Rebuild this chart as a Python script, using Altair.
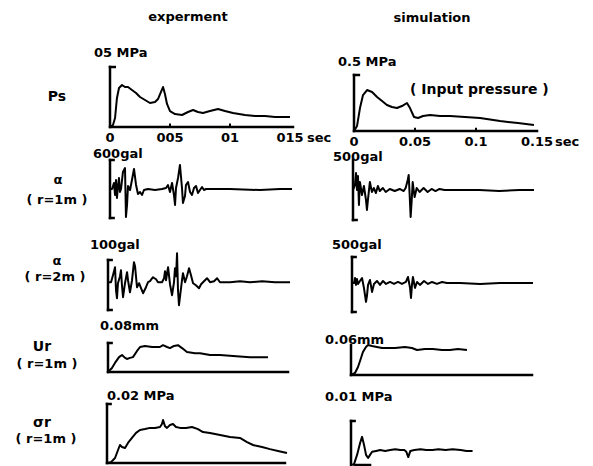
import altair as alt
import pandas as pd

M = 8            # page margin
FONT = "DejaVu Sans"
FS = 13

# ---------------- texts ----------------
col_titles = ["experment", "simulation"]
row_names = ["Ps", "\u03b1", "\u03b1", "Ur", "\u03c3r"]
row_subs = ["", "( r=1m )", "( r=2m )", "( r=1m )", "( r=1m )"]
unit_exp = ["05 MPa", "600gal", "100gal", "0.08mm", "0.02 MPa"]
unit_sim = ["0.5 MPa", "500gal", "500gal", "0.06mm", "0.01 MPa"]
tick_values = [0, 0.05, 0.1, 0.15]
tick_labels_exp = ["0", "005", "01", "015"]
tick_labels_sim = ["0", "0.05", "0.1", "0.15"]
sec_label = "sec"
note_text = "( Input pressure )"

# ---------------- series (time in s) ----------------
ps_exp_t = [0, .0025, .0042, .0058, .0075, .010, .0125, .015, .0183, .0217, .025, .0292, .0333, .0375, .040,
            .0425, .0442, .0458, .0475, .050, .0542, .060, .065, .0692, .0733, .0775, .0833, .090, .0958,
            .1025, .1125, .1208, .1292, .1375, .150]
ps_exp_v = [0, .017, .075, .242, .325, .350, .333, .333, .308, .283, .250, .225, .200, .208, .233,
            .292, .333, .275, .192, .133, .108, .100, .125, .142, .125, .117, .133, .150, .133,
            .117, .100, .092, .092, .083, .083]

ps_sim_t = [0, .0025, .0049, .0074, .0107, .0148, .0189, .0230, .0270, .0311, .0352, .0393, .0434, .0459,
            .0492, .0525, .0566, .0623, .0705, .0787, .0910, .1033, .1197, .1344, .1475]
ps_sim_v = [0, .045, .205, .321, .366, .348, .304, .268, .232, .214, .205, .223, .250, .205,
            .125, .116, .134, .143, .134, .134, .125, .116, .089, .071, .054]

a1_exp_t = [0, .0017, .0033, .0042, .005, .0058, .0067, .0075, .0083, .0092, .0108, .0125, .0133, .0142,
            .015, .0167, .0183, .020, .0217, .0233, .025, .0267, .0283, .0317, .0375, .0433, .0467, .0483,
            .050, .0517, .0533, .0542, .055, .0567, .0583, .060, .0608, .0625, .0633, .065, .0667, .0683,
            .070, .0717, .0733, .075, .0767, .0783, .080, .100, .125, .1417, .1517]
a1_exp_v = [0, 0, 124, -124, 186, -186, 62, 228, -62, 0, 352, 434, -579, -331,
            62, -21, 186, 414, 83, -103, -62, -124, -21, 0, -21, 0, 21, 83,
            -62, 124, -124, -331, 21, 228, 497, 21, -290, -145, 83, 145, -62, -124,
            21, 62, -83, -21, 41, -21, 0, 0, -21, 0, 0]

a1_sim_t = [0, .0016, .0025, .0033, .0041, .0049, .0057, .0074, .009, .0107, .0115, .0123, .0139, .0156,
            .0172, .0189, .0205, .0221, .0246, .027, .0303, .0344, .0385, .0418, .0434, .0451, .0459, .0467,
            .0475, .0484, .0492, .05, .0508, .0525, .0549, .0582, .0615, .0648, .068, .0713, .0754, .0877,
            .1041, .1205, .1369, .1492]
a1_sim_v = [0, 83, 283, 0, 233, -250, 133, -83, 67, -167, -333, -167, 133, -33,
            33, -50, 67, -17, 33, -33, 17, -17, 17, -17, 33, 167, 250, -83,
            -450, -167, 133, 0, -117, 33, -33, 33, -33, 17, -17, 17, 0, 0,
            0, -17, 0, 0]

a2_exp_t = [0, .0025, .0041, .0058, .0066, .0074, .0082, .0099, .0107, .0115, .0124, .014, .0157, .0165,
            .0181, .0198, .0214, .0223, .0239, .0256, .0272, .0289, .0313, .033, .0346, .0371, .0396, .0412,
            .0445, .0462, .047, .0478, .0495, .0511, .0528, .0544, .0552, .0561, .0569, .0577, .0585, .0594,
            .061, .0618, .0635, .0651, .0668, .0684, .0701, .0725, .075, .0767, .0791, .0816, .0841, .0874,
            .0899, .0923, .1006, .1088, .1171, .127, .1377, .15]
a2_exp_v = [0, 0, 31.5, 67.5, -36, -72, -4.5, 27, 54, -13.5, -67.5, -4.5, 45, 9,
            -45, 9, 90, 72, -22.5, -4.5, -27, -49.5, -22.5, 0, 4.5, 22.5, 13.5, 0,
            0, 18, 49.5, 9, 67.5, -9, -58.5, 0, 63, 27, 130.5, -36, -103.5, -63,
            9, 40.5, 0, 27, 63, 31.5, -4.5, -13.5, -27, -9, 4.5, 18, 0, 4.5,
            18, 0, 0, 4.5, 0, 4.5, 0, 0]

a2_sim_t = [0, .0017, .0025, .0033, .0041, .005, .0066, .0083, .0099, .0116, .0124, .0133, .0149, .0166,
            .0182, .0207, .0232, .0257, .0282, .0315, .0348, .0381, .0414, .0447, .0464, .0481, .0489, .0497,
            .0505, .0522, .0539, .0563, .0597, .063, .0663, .0704, .0746, .0787, .0895, .1061, .1226, .1392,
            .15]
a2_sim_v = [0, 0, 96, -38, 77, -19, 38, 96, -96, -365, -250, -38, 58, -173,
            -19, 38, -38, 38, -19, 19, -19, 19, -19, 19, 115, -96, -288, -38,
            115, -96, 19, -38, 38, -19, 19, -19, 19, 0, 0, -19, 0, 0,
            0]

ur_exp_t = [0, .0033, .0058, .0092, .0117, .0142, .0158, .0183, .0208, .0242, .0267, .0308, .0367, .0433,
            .0458, .0492, .0517, .055, .0583, .0617, .0658, .0725, .0767, .085, .0933, .1042, .1183, .1333]
ur_exp_v = [0, .011, .025, .041, .047, .039, .036, .039, .041, .058, .069, .072, .069, .069,
            .074, .069, .066, .072, .074, .066, .055, .052, .052, .047, .047, .044, .041, .041]

ur_sim_t = [0, .0033, .0058, .0083, .0099, .0124, .0141, .0174, .0215, .0257, .0298, .0365, .0447, .0505,
            .0547, .0613, .0679, .0754, .082, .0886, .0961]
ur_sim_v = [0, .004, .016, .034, .046, .056, .060, .058, .056, .054, .054, .054, .056, .054,
            .050, .052, .052, .050, .050, .052, .050]

sr_exp_t = [0, .0033, .0067, .0092, .0108, .0125, .015, .0175, .0208, .0242, .0275, .0317, .0358, .04,
            .0442, .0458, .0467, .0483, .05, .0525, .055, .0575, .0608, .0658, .0708, .0758, .08, .0858,
            .0942, .1025, .1108, .1167, .1217, .1292, .1358, .1425, .15]
sr_exp_v = [0, .0003, .0017, .0044, .0061, .0054, .0051, .0068, .0085, .0102, .0112, .0115, .0119, .0119,
            .0122, .0132, .0146, .0125, .0119, .0129, .0132, .0122, .0119, .0119, .0122, .0115, .0105, .0102,
            .0095, .0088, .0085, .0071, .0061, .0054, .0047, .0041, .0034]

sr_sim_t = [0, .0025, .005, .0075, .0091, .0108, .0124, .0141, .0157, .0174, .0207, .024, .0282, .0323,
            .0365, .0406, .0439, .0456, .0472, .0489, .0522, .0572, .0621, .0671, .0721, .0779, .0837, .0903,
            .0953, .1002]
sr_sim_v = [0, .0002, .0023, .005, .0064, .0045, .0023, .0016, .0023, .003, .0032, .0034, .0032, .0034,
            .0036, .0034, .0034, .003, .0018, .0032, .0034, .0036, .0034, .0034, .0036, .0034, .0036, .0034,
            .0032, .0032]

# ---------------- helpers ----------------
one = pd.DataFrame({"k": [0]})
layers = []


def sx(x0, x1):
    return alt.Scale(domain=[0, 0.15], range=[x0 - M, x1 - M], nice=False, zero=False)


def sy(lo, hi, ybot, ytop):
    return alt.Scale(domain=[lo, hi], range=[ybot - M, ytop - M], nice=False, zero=False)


def hseg(xs, ys, t1, t2, v, w=2.5):
    layers.append(alt.Chart(one).mark_rule(color="black", strokeWidth=w, strokeCap="square").encode(
        x=alt.XDatum(t1, scale=xs, axis=None), x2=alt.X2Datum(t2),
        y=alt.YDatum(v, scale=ys, axis=None)))


def vseg(xs, ys, t, v1, v2, w=2.5):
    layers.append(alt.Chart(one).mark_rule(color="black", strokeWidth=w, strokeCap="square").encode(
        x=alt.XDatum(t, scale=xs, axis=None),
        y=alt.YDatum(v1, scale=ys, axis=None), y2=alt.Y2Datum(v2)))


def txt(xs, ys, t, v, s, dx, dy, align="left", size=FS):
    layers.append(alt.Chart(one).mark_text(
        text=s, align=align, baseline="middle", dx=dx, dy=dy, font=FONT,
        fontSize=size, fontWeight="bold", color="black").encode(
        x=alt.XDatum(t, scale=xs, axis=None), y=alt.YDatum(v, scale=ys, axis=None)))


def curve(xs, ys, t, v, w=2):
    df = pd.DataFrame({"t": t, "v": v, "i": range(len(t))})
    layers.append(alt.Chart(df).mark_line(color="black", strokeWidth=w, strokeJoin="round").encode(
        x=alt.X("t:Q", scale=xs, axis=None), y=alt.Y("v:Q", scale=ys, axis=None), order="i:Q"))


def ticklabels(xs, ys, labels, dy):
    df = pd.DataFrame({"t": tick_values, "lab": labels})
    layers.append(alt.Chart(df).mark_text(
        align="center", baseline="middle", dy=dy, font=FONT, fontSize=FS,
        fontWeight="bold", color="black").encode(
        x=alt.X("t:Q", scale=xs, axis=None), y=alt.YDatum(0, scale=ys, axis=None), text="lab:N"))


# ---------------- Ps experiment ----------------
xs, ys = sx(110, 290), sy(0, 0.5, 127, 67)
curve(xs, ys, ps_exp_t, ps_exp_v)
vseg(xs, ys, 0, 0, 0.5)
hseg(xs, ys, 0, 0.004, 0.5)
hseg(xs, ys, 0, 0.1525, 0)
vseg(xs, ys, 0.05, 0, 0.02, 2)
vseg(xs, ys, 0.1, 0, 0.02, 2)
txt(xs, ys, 0, 0.5, col_titles[0], 78, -50, "center")
txt(xs, ys, 0, 0.5, unit_exp[0], -16, -14)
txt(xs, ys, 0, 0.5, row_names[0], -53, 30, "center", 14)
ticklabels(xs, ys, tick_labels_exp, 11)
txt(xs, ys, 0.15, 0, sec_label, 17, 11)

# ---------------- Ps simulation ----------------
xs, ys = sx(354, 537), sy(0, 0.5, 131, 75)
curve(xs, ys, ps_sim_t, ps_sim_v)
vseg(xs, ys, 0, 0, 0.5)
hseg(xs, ys, 0, 0.004, 0.5)
hseg(xs, ys, 0, 0.15, 0)
vseg(xs, ys, 0.05, 0, 0.02, 2)
vseg(xs, ys, 0.1, 0, 0.02, 2)
txt(xs, ys, 0, 0.5, col_titles[1], 78, -57, "center")
txt(xs, ys, 0, 0.5, unit_sim[0], -16, -13)
txt(xs, ys, 0, 0.5, note_text, 56, 15, "left", 14)
ticklabels(xs, ys, tick_labels_sim, 11)
txt(xs, ys, 0.15, 0, sec_label, 18, 11)

# ---------------- alpha r=1m ----------------
xs, ys = sx(110, 290), sy(-600, 600, 218, 160)
curve(xs, ys, a1_exp_t, a1_exp_v)
vseg(xs, ys, 0, -600, 600)
hseg(xs, ys, 0, 0.003, 600)
hseg(xs, ys, 0, 0.003, -600)
txt(xs, ys, 0, 600, unit_exp[1], -17, -6)
txt(xs, ys, 0, 0, row_names[1], -52, -9, "center", 13)
txt(xs, ys, 0, 0, row_subs[1], -53, 11, "center")

xs, ys = sx(353, 535), sy(-500, 500, 220, 160)
curve(xs, ys, a1_sim_t, a1_sim_v)
vseg(xs, ys, 0, -500, 500)
hseg(xs, ys, 0, 0.003, -500)
txt(xs, ys, 0, 500, unit_sim[1], -20, -3)

# ---------------- alpha r=2m ----------------
xs, ys = sx(108, 290), sy(-125, 100, 310, 260)
curve(xs, ys, a2_exp_t, a2_exp_v)
vseg(xs, ys, 0, -125, 100)
hseg(xs, ys, 0, 0.003, 100)
hseg(xs, ys, 0, 0.003, -125)
txt(xs, ys, 0, 100, unit_exp[2], -18, -15)
txt(xs, ys, 0, 0, row_names[2], -51, -21, "center", 13)
txt(xs, ys, 0, 0, row_subs[2], -53, -5, "center")

xs, ys = sx(352, 533), sy(-560, 500, 312, 257)
curve(xs, ys, a2_sim_t, a2_sim_v)
vseg(xs, ys, 0, -560, 500)
hseg(xs, ys, 0, 0.003, 500)
hseg(xs, ys, 0, 0.003, -560)
txt(xs, ys, 0, 500, unit_sim[2], -20, -12)

# ---------------- Ur ----------------
xs, ys = sx(108, 288), sy(0, 0.08, 372, 343)
curve(xs, ys, ur_exp_t, ur_exp_v)
vseg(xs, ys, 0, 0, 0.08)
hseg(xs, ys, 0, 0.003, 0.08)
hseg(xs, ys, 0, 0.15, 0)
txt(xs, ys, 0, 0.08, unit_exp[3], -8, -17)
txt(xs, ys, 0, 0, row_names[3], -66, -25, "center", 14)
txt(xs, ys, 0, 0, row_subs[3], -61, -8, "center")

xs, ys = sx(351, 532), sy(0, 0.06, 375, 345)
curve(xs, ys, ur_sim_t, ur_sim_v)
vseg(xs, ys, 0, 0, 0.06)
hseg(xs, ys, 0, 0.15, 0)
txt(xs, ys, 0, 0.06, unit_sim[3], -26, -5)

# ---------------- sigma r ----------------
xs, ys = sx(107, 287), sy(0, 0.02, 463, 404)
curve(xs, ys, sr_exp_t, sr_exp_v)
vseg(xs, ys, 0, 0, 0.02)
hseg(xs, ys, 0, 0.003, 0.02)
hseg(xs, ys, 0, 0.1483, 0)
txt(xs, ys, 0, 0.02, unit_exp[4], 0, -8)
txt(xs, ys, 0, 0, row_names[4], -65, -40, "center", 14)
txt(xs, ys, 0, 0, row_subs[4], -61, -24, "center")

xs, ys = sx(351, 533), sy(0, 0.01, 465, 421)
curve(xs, ys, sr_sim_t, sr_sim_v)
vseg(xs, ys, 0, 0, 0.01)
hseg(xs, ys, 0, 0.003, 0.01)
hseg(xs, ys, 0.003, 0.0157, 0)
txt(xs, ys, 0, 0.01, unit_sim[4], -26, -24)

chart = alt.layer(*layers).resolve_scale(x="independent", y="independent").properties(
    width=577, height=458, padding=0,
    autosize=alt.AutoSizeParams(type="none"), background="white"
).configure_view(stroke=None)

chart.save("out.html", embed_options={"renderer": "svg", "actions": False})
